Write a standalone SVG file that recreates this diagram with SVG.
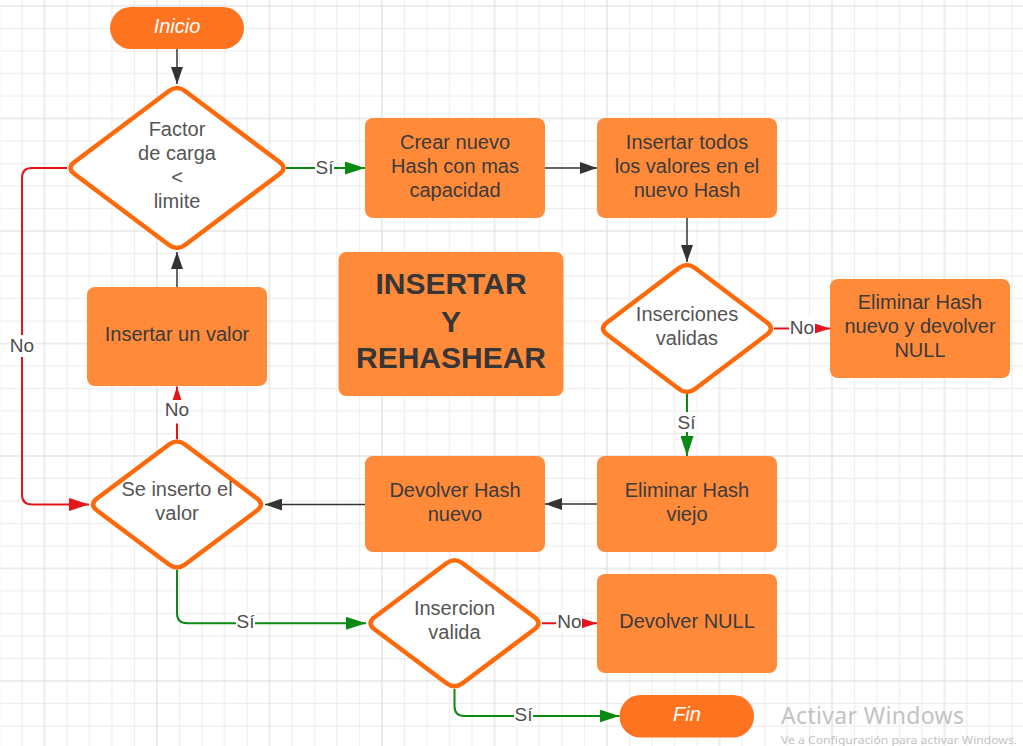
<svg xmlns="http://www.w3.org/2000/svg" width="1023" height="746" viewBox="0 0 1023 746">
<style>
.box{fill:#ff8a3a}
.pill{fill:#fd7320}
.dia{fill:#ffffff;stroke:#fe6a0b;stroke-width:4.5}
.bt{font-family:"Liberation Sans",Arial,sans-serif;font-size:20px;fill:#3b3b3b;text-anchor:middle}
.dt{font-family:"Liberation Sans",Arial,sans-serif;font-size:20px;fill:#555555;text-anchor:middle}
.pt{font-family:"Liberation Sans",Arial,sans-serif;font-size:20px;font-style:italic;fill:#ffffff;text-anchor:middle}
.tt{font-family:"Liberation Sans",Arial,sans-serif;font-size:30px;font-weight:bold;fill:#363636;text-anchor:middle}
.lt{font-family:"Liberation Sans",Arial,sans-serif;font-size:19px;fill:#4d4d4d;text-anchor:middle}
.lbg{fill:#ffffff}
.cd{fill:none;stroke:#333333;stroke-width:1.5;marker-end:url(#ad)}
.cg{fill:none;stroke:#0a8a12;stroke-width:2;marker-end:url(#ag)}
.cr{fill:none;stroke:#e3141b;stroke-width:2;marker-end:url(#ar)}
</style>
<defs>
<pattern id="grid" x="-68" y="6" width="112.5" height="112.5" patternUnits="userSpaceOnUse">
<path d="M22.5 0V112.5M45 0V112.5M67.5 0V112.5M90 0V112.5M0 22.5H112.5M0 45H112.5M0 67.5H112.5M0 90H112.5" stroke="#ececec" stroke-width="1" fill="none"/>
<path d="M0 0V112.5M112.5 0V112.5M0 0H112.5M0 112.5H112.5" stroke="#dadada" stroke-width="1" fill="none"/>
</pattern>
<marker id="ad" markerUnits="userSpaceOnUse" markerWidth="18" markerHeight="12" refX="17" refY="6" orient="auto">
<path d="M0,0 L17,6 L0,12 z" fill="#333333"/>
</marker>
<marker id="ag" markerUnits="userSpaceOnUse" markerWidth="21" markerHeight="13" refX="20" refY="6.5" orient="auto">
<path d="M0,0 L20,6.5 L0,13 z" fill="#0a8a12"/>
</marker>
<marker id="ar" markerUnits="userSpaceOnUse" markerWidth="21" markerHeight="13" refX="20" refY="6.5" orient="auto">
<path d="M0,0 L20,6.5 L0,13 z" fill="#e3141b"/>
</marker>
</defs>
<rect x="0" y="0" width="1023" height="746" fill="#ffffff"/>
<rect x="0" y="0" width="1023" height="746" fill="url(#grid)"/>

<g id="connectors">
<path class="cd" d="M177,49 V84"/>
<path class="cg" d="M286,168 H365"/>
<path class="cd" d="M545,168 H597"/>
<path class="cd" d="M687,218 V262"/>
<path class="cr" d="M774,328.5 H830"/>
<path class="cg" d="M687,394 V456"/>
<path class="cd" d="M597,504 H545"/>
<path class="cd" d="M365,504.5 H265"/>
<path class="cr" d="M177,439 V386.5"/>
<path class="cd" d="M177,287 V252"/>
<path class="cr" d="M67,168 H32 Q22,168 22,178 V494.5 Q22,504.5 32,504.5 H89"/>
<path class="cg" d="M177,570 V613.3 Q177,623.3 187,623.3 H366"/>
<path class="cr" d="M542,623.3 H597"/>
<path class="cg" d="M454.5,689 V706 Q454.5,716 464.5,716 H619.5"/>
<rect class="lbg" x="315" y="157" width="19" height="20"/>
<text class="lt" x="324.5" y="173.5">Sí</text>
<rect class="lbg" x="789" y="317" width="26" height="20"/>
<text class="lt" x="802" y="333.5">No</text>
<rect class="lbg" x="676" y="412" width="21" height="20"/>
<text class="lt" x="686.5" y="429">Sí</text>
<rect class="lbg" x="163" y="400" width="28" height="23.5"/>
<text class="lt" x="177" y="416">No</text>
<rect class="lbg" x="9" y="335" width="26" height="22"/>
<text class="lt" x="22" y="352">No</text>
<rect class="lbg" x="236" y="612" width="19" height="20"/>
<text class="lt" x="245.5" y="628">Sí</text>
<rect class="lbg" x="556" y="611" width="26" height="20"/>
<text class="lt" x="569.5" y="628">No</text>
<rect class="lbg" x="514" y="704" width="19" height="20"/>
<text class="lt" x="523.5" y="721">Sí</text>
</g>

<g id="inicio">
<rect class="pill" x="110" y="7" width="134" height="42" rx="21"/>
<text class="pt" x="177" y="33">Inicio</text>
</g>

<g id="factor_carga">
<path class="dia" d="M185,91 L279.5,162 Q287.5,168 279.5,174 L185,245 Q177,251 169,245 L74.5,174 Q66.5,168 74.5,162 L169,91 Q177,85 185,91 Z"/>
<text class="dt" x="177" y="136">Factor</text>
<text class="dt" x="177" y="160">de carga</text>
<text class="dt" x="177" y="184">&lt;</text>
<text class="dt" x="177" y="208">limite</text>
</g>

<g id="crear_hash">
<rect class="box" x="365" y="118" width="180" height="100" rx="8"/>
<text class="bt" x="455" y="149">Crear nuevo</text>
<text class="bt" x="455" y="173">Hash con mas</text>
<text class="bt" x="455" y="197">capacidad</text>
</g>

<g id="insertar_todos">
<rect class="box" x="597" y="118" width="180" height="100" rx="8"/>
<text class="bt" x="687" y="149">Insertar todos</text>
<text class="bt" x="687" y="173">los valores en el</text>
<text class="bt" x="687" y="197">nuevo Hash</text>
</g>

<g id="inserciones_validas">
<path class="dia" d="M695,268 L767,322.5 Q775,328.5 767,334.5 L695,389 Q687,395 679,389 L607,334.5 Q599,328.5 607,322.5 L679,268 Q687,262 695,268 Z"/>
<text class="dt" x="687" y="321">Inserciones</text>
<text class="dt" x="687" y="345">validas</text>
</g>

<g id="eliminar_nuevo">
<rect class="box" x="830" y="279" width="180" height="99" rx="8"/>
<text class="bt" x="920" y="309">Eliminar Hash</text>
<text class="bt" x="920" y="333">nuevo y devolver</text>
<text class="bt" x="920" y="357">NULL</text>
</g>

<g id="titulo">
<rect class="box" x="338.5" y="252" width="225" height="144" rx="8"/>
<text class="tt" x="451" y="294">INSERTAR</text>
<text class="tt" x="451" y="332">Y</text>
<text class="tt" x="451" y="368">REHASHEAR</text>
</g>

<g id="insertar_valor">
<rect class="box" x="87" y="287" width="180" height="99" rx="8"/>
<text class="bt" x="177" y="341">Insertar un valor</text>
</g>

<g id="eliminar_viejo">
<rect class="box" x="597" y="456" width="180" height="96" rx="8"/>
<text class="bt" x="687" y="497">Eliminar Hash</text>
<text class="bt" x="687" y="521">viejo</text>
</g>

<g id="devolver_hash">
<rect class="box" x="365" y="456" width="180" height="96" rx="8"/>
<text class="bt" x="455" y="497">Devolver Hash</text>
<text class="bt" x="455" y="521">nuevo</text>
</g>

<g id="se_inserto">
<path class="dia" d="M185,444.5 L257,498.5 Q265,504.5 257,510.5 L185,564.5 Q177,570.5 169,564.5 L97,510.5 Q89,504.5 97,498.5 L169,444.5 Q177,438.5 185,444.5 Z"/>
<text class="dt" x="177" y="496">Se inserto el</text>
<text class="dt" x="177" y="520">valor</text>
</g>

<g id="insercion_valida">
<path class="dia" d="M462.5,563.3 L534.5,617.3 Q542.5,623.3 534.5,629.3 L462.5,683.3 Q454.5,689.3 446.5,683.3 L374.5,629.3 Q366.5,623.3 374.5,617.3 L446.5,563.3 Q454.5,557.3 462.5,563.3 Z"/>
<text class="dt" x="454.5" y="615">Insercion</text>
<text class="dt" x="454.5" y="639">valida</text>
</g>

<g id="devolver_null">
<rect class="box" x="597" y="574" width="180" height="99" rx="8"/>
<text class="bt" x="687" y="628">Devolver NULL</text>
</g>

<g id="fin">
<rect class="pill" x="619.5" y="695" width="134.5" height="42.5" rx="21"/>
<text class="pt" x="687" y="721">Fin</text>
</g>

<g id="watermark">
<text x="781" y="724" font-family="'Noto Sans','Open Sans',sans-serif" font-size="23" fill="#c2c2c2" textLength="183">Activar Windows</text>
<text x="781" y="744" font-family="'Noto Sans','Open Sans',sans-serif" font-size="10" fill="#c2c2c2" textLength="236" lengthAdjust="spacingAndGlyphs">Ve a Configuración para activar Windows.</text>
</g>
</svg>
